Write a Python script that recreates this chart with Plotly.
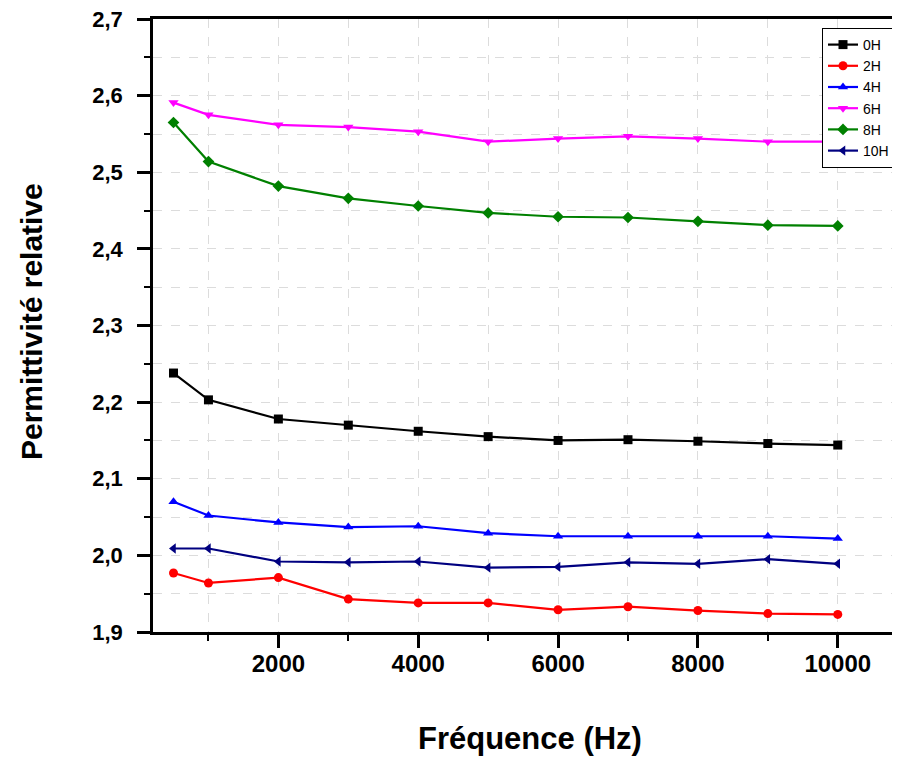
import plotly.graph_objects as go

freq = [500, 1000, 2000, 3000, 4000, 5000, 6000, 7000, 8000, 9000, 10000]

s_0H = [2.238, 2.203, 2.178, 2.170, 2.162, 2.155, 2.150, 2.151, 2.149, 2.146, 2.144]
s_2H = [1.977, 1.964, 1.971, 1.943, 1.938, 1.938, 1.929, 1.933, 1.928, 1.924, 1.923]
s_4H = [2.070, 2.052, 2.043, 2.037, 2.038, 2.029, 2.025, 2.025, 2.025, 2.025, 2.022]
s_6H = [2.591, 2.575, 2.562, 2.559, 2.553, 2.540, 2.544, 2.547, 2.544, 2.540, 2.540]
s_8H = [2.565, 2.514, 2.482, 2.466, 2.456, 2.447, 2.442, 2.441, 2.436, 2.431, 2.430]
s_10H = [2.009, 2.009, 1.992, 1.991, 1.992, 1.984, 1.985, 1.991, 1.989, 1.995, 1.989]

names = ["0H", "2H", "4H", "6H", "8H", "10H"]
colors = ["#000000", "#FF0000", "#0000FF", "#FF00FF", "#008000", "#000080"]
symbols = ["square", "circle", "triangle-up", "triangle-down", "diamond", "triangle-left"]
series = [s_0H, s_2H, s_4H, s_6H, s_8H, s_10H]

fig = go.Figure()
for n, c, sym, s in zip(names, colors, symbols, series):
    fig.add_trace(go.Scatter(
        x=freq, y=s, name=n, mode="lines+markers",
        line=dict(color=c, width=2.2),
        marker=dict(symbol=sym, size=9, color=c),
    ))

font_family = "Liberation Sans, Arial, sans-serif"
grid_col = "#dcdcdc"

# page body has an 8px margin: figure is 892x755 so it ends at 900x763
fig.update_layout(
    width=892, height=755,
    margin=dict(l=145, r=0, t=11, b=131),
    paper_bgcolor="white", plot_bgcolor="white",
    separators=", ",
    font=dict(family=font_family, color="black"),
    showlegend=True,
    legend=dict(
        x=(822 - 153) / 747, y=(632 - 28) / 613, xanchor="left", yanchor="top",
        bordercolor="black", borderwidth=1, bgcolor="white",
        font=dict(size=14, family=font_family), tracegroupgap=0,
        itemwidth=30,
    ),
    xaxis=dict(
        range=[207, 10890], tickmode="linear", tick0=0, dtick=2000, tickformat="d",
        showline=True, linecolor="black", linewidth=2.5, mirror=True,
        ticks="outside", ticklen=13, tickwidth=2.5, tickcolor="black",
        tickfont=dict(size=24, weight="bold", family=font_family),
        ticklabelstandoff=-5, ticklabeloverflow="allow",
        showgrid=True, gridcolor=grid_col, griddash="dash", gridwidth=1,
        zeroline=False,
        minor=dict(dtick=1000, tick0=0, ticks="outside", ticklen=6, tickwidth=2,
                   tickcolor="black", showgrid=True, gridcolor=grid_col,
                   griddash="dash", gridwidth=1),
    ),
    yaxis=dict(
        range=[1.9, 2.7001], tickmode="linear", tick0=1.9, dtick=0.1, tickformat=".1f",
        showline=True, linecolor="black", linewidth=2.5,
        ticks="outside", ticklen=13, tickwidth=2.5, tickcolor="black",
        tickfont=dict(size=22, weight="bold", family=font_family),
        ticklabelstandoff=10, ticklabeloverflow="allow",
        showgrid=True, gridcolor=grid_col, griddash="dash", gridwidth=1,
        zeroline=False,
        minor=dict(dtick=0.05, tick0=1.9, ticks="outside", ticklen=6, tickwidth=2,
                   tickcolor="black", showgrid=True, gridcolor=grid_col,
                   griddash="dash", gridwidth=1),
    ),
    annotations=[
        dict(text="<b>Fréquence (Hz)</b>", xref="paper", yref="paper",
             x=(530 - 153) / 747, y=(632 - 738) / 613, xanchor="center", yanchor="middle",
             showarrow=False, font=dict(size=31, family=font_family, color="black")),
        dict(text="<b>Permittivité relative</b>", xref="paper", yref="paper",
             x=(31 - 153) / 747, y=(632 - 322) / 613, xanchor="center", yanchor="middle",
             textangle=-90, showarrow=False,
             font=dict(size=30, family=font_family, color="black")),
    ],
)

fig.write_html("out.html")
